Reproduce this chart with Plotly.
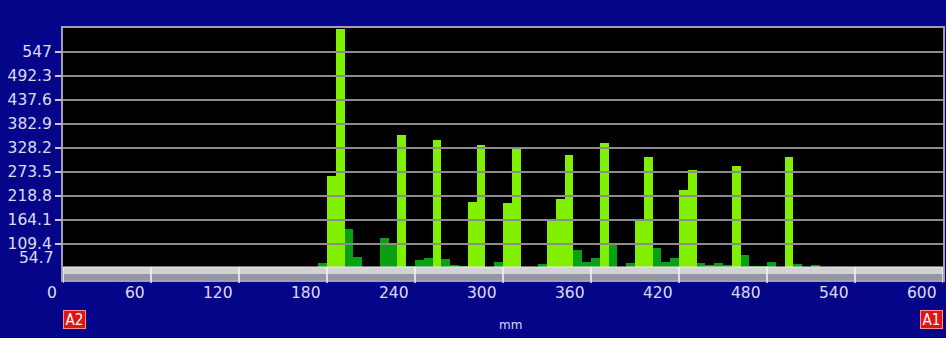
import plotly.graph_objects as go

# ---------------- data ----------------
bin_width_mm = 6
bin_start_mm = list(range(0, 600, 6))          # 100 bins of 6 mm
values = (
    [0] * 29 +
    [65, 264, 600, 143, 79, 58, 58, 122, 109, 357,      # bins 29-38
     60, 73, 77, 346, 75, 62, 59, 206, 335, 58,         # bins 39-48
     69, 202, 327, 57, 57, 64, 164, 213, 312, 96,       # bins 49-58
     69, 77, 339, 109, 58, 66, 164, 308, 100, 69,       # bins 59-68
     78, 232, 279, 66, 62, 66, 62, 287, 84, 59,         # bins 69-78
     59, 68, 58, 307, 64, 57, 61] +                     # bins 79-85
    [0] * 14
)
x_ticks = [0, 60, 120, 180, 240, 300, 360, 420, 480, 540, 600]
y_ticks = [109.4, 164.1, 218.8, 273.5, 328.2, 382.9, 437.6, 492.3, 547]
y_tick_text = ["109.4", "164.1", "218.8", "273.5", "328.2", "382.9", "437.6", "492.3", "547"]
low_tick = 54.7
low_tick_text = "54.7"
y_min, y_max = 27.35, 601.7
threshold = 150

# ---------------- style ----------------
BG = "#05058a"
BRIGHT = "#80f000"
DARK = "#0aa014"
GRID = "#8c8c8c"
LABEL = "#dcdcf0"
FONT = "DejaVu Sans"

colors = [BRIGHT if v >= threshold else DARK for v in values]
centers = [s + bin_width_mm / 2 for s in bin_start_mm]

fig = go.Figure(go.Bar(
    x=centers, y=values, width=bin_width_mm,
    marker=dict(color=colors, line=dict(width=0)),
    hoverinfo="x+y",
))

shapes = []
# gridlines drawn above bars
for yv in [low_tick] + y_ticks:
    shapes.append(dict(type="line", xref="paper", x0=0, x1=1, yref="y", y0=yv, y1=yv,
                       line=dict(color=GRID, width=2), layer="above"))
# grey band at the bottom of the plot
shapes.append(dict(type="rect", xref="paper", x0=0, x1=1, yref="paper", ysizemode="pixel",
                   yanchor=0, y0=0, y1=13, fillcolor="#d2d2d6", line=dict(width=0), layer="above"))
shapes.append(dict(type="rect", xref="paper", x0=0, x1=1, yref="paper", ysizemode="pixel",
                   yanchor=0, y0=0, y1=6, fillcolor="#9696a4", line=dict(width=0), layer="above"))
shapes.append(dict(type="line", xref="paper", x0=0, x1=1, yref="paper", ysizemode="pixel",
                   yanchor=0, y0=13, y1=13, line=dict(color="#ececec", width=1), layer="above"))
# x tick marks crossing the band
for xv in x_ticks:
    shapes.append(dict(type="line", xref="x", x0=xv, x1=xv, yref="paper", ysizemode="pixel",
                       yanchor=0, y0=-3, y1=13, line=dict(color="#f4f4f4", width=1.5), layer="above"))

annotations = []
for xv in x_ticks:
    annotations.append(dict(x=xv, xref="x", y=0, yref="paper", yshift=-13, xshift=-4,
                            xanchor="right", yanchor="middle", showarrow=False,
                            text=str(xv), font=dict(family=FONT, size=15.5, color=LABEL)))
annotations.append(dict(x=0, xref="paper", y=low_tick, yref="y", xshift=-7, yshift=10,
                        xanchor="right", yanchor="middle", showarrow=False,
                        text=low_tick_text, font=dict(family=FONT, size=15.5, color=LABEL)))
annotations.append(dict(x=0.5, xref="paper", y=0, yref="paper", xshift=7, yshift=-45,
                        xanchor="center", yanchor="middle", showarrow=False,
                        text="mm", font=dict(family="DejaVu Sans", size=12, color=LABEL)))
for txt, xp, xa in [("A2", 0, "left"), ("A1", 1, "right")]:
    annotations.append(dict(x=xp, xref="paper", y=0, yref="paper", yshift=-39.5,
                            xanchor=xa, yanchor="middle", showarrow=False, text=txt,
                            width=21, height=17, bgcolor="#e01414", bordercolor="#ff9090",
                            borderwidth=1, borderpad=0,
                            font=dict(family="DejaVu Sans Condensed", size=15, color="#ffffff")))

fig.update_layout(
    width=946, height=338,
    margin=dict(l=63, r=3, t=28, b=58),
    paper_bgcolor=BG, plot_bgcolor="#000000",
    bargap=0, showlegend=False,
    shapes=shapes, annotations=annotations,
    xaxis=dict(range=[0, 600], showgrid=False, zeroline=False, showticklabels=False,
               ticks="", showline=True, linecolor="#a0a0b0", linewidth=2, mirror=True),
    yaxis=dict(range=[y_min, y_max], tickvals=y_ticks, ticktext=y_tick_text,
               showgrid=False, zeroline=False, ticks="outside", ticklen=6, tickwidth=1.5,
               tickcolor="#c8c8d8", showline=True, linecolor="#a0a0b0", linewidth=2, mirror=True,
               automargin=False,
               tickfont=dict(family=FONT, size=15.5, color=LABEL)),
)

fig.write_html(
    "out.html",
    config={"displayModeBar": False},
    post_script="document.body.style.margin='0';document.body.style.background='%s';" % BG,
)
